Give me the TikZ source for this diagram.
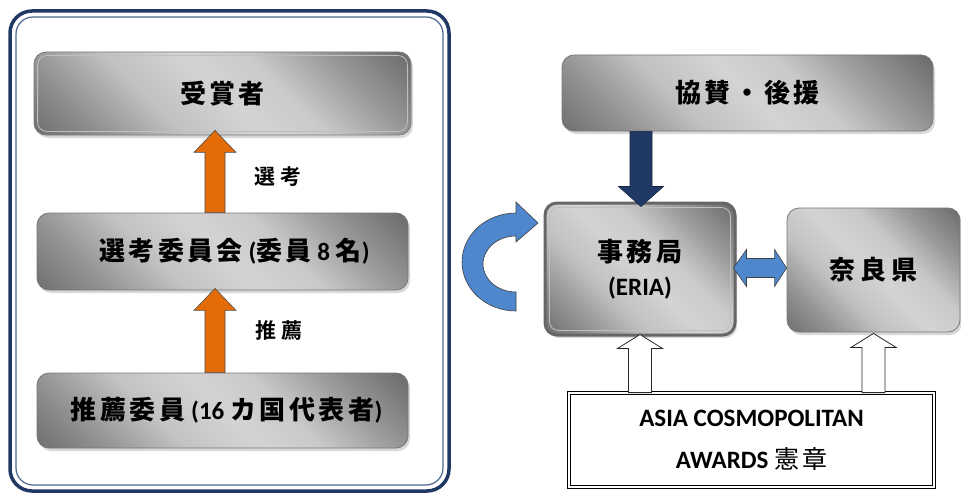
\documentclass[tikz,border=0pt]{standalone}
\usepackage{fontspec}
\setmainfont{Carlito}
\newfontfamily\jpf{Noto Sans CJK JP Bold}[LetterSpace=10]
\newfontfamily\jpg{Noto Sans CJK JP Bold}[LetterSpace=13]
\newfontfamily\jpw{Noto Sans CJK JP Bold}[LetterSpace=20]
\newfontfamily\jpl{Noto Sans CJK JP Bold}[LetterSpace=28]
\newfontfamily\jpr{Noto Sans CJK JP Bold}[LetterSpace=14]
\newfontfamily\jpn{Noto Sans CJK JP}[LetterSpace=12]
\usetikzlibrary{shadows,calc}
\definecolor{navy}{RGB}{31,56,100}
\definecolor{navyin}{RGB}{74,103,144}
\definecolor{orng}{RGB}{227,108,9}
\definecolor{bluea}{RGB}{79,135,205}
\definecolor{boxedge}{RGB}{120,120,120}
\pgfdeclarehorizontalshading{metal}{100bp}{color(0bp)=(black!58); color(15bp)=(black!56);
  color(26bp)=(black!42); color(38bp)=(black!24); color(50bp)=(black!17); color(60bp)=(black!21);
  color(72bp)=(black!40); color(85bp)=(black!58); color(100bp)=(black!60)}
\newcommand\vblock[6]{%
  \path[#1] let \p1=#2, \p2=#3, \n1={sign(\y2-\y1)} in
   ({\x2-#4pt},\y1) -- ({\x2-#4pt},{\y2-\n1*#6pt}) -- ({\x2-#5pt},{\y2-\n1*#6pt})
   -- (\x2,\y2) -- ({\x2+#5pt},{\y2-\n1*#6pt}) -- ({\x2+#4pt},{\y2-\n1*#6pt})
   -- ({\x2+#4pt},\y1) -- cycle;}
\begin{document}
\begin{tikzpicture}[x=1pt,y=-1pt,
  gbox/.style={rectangle, rounded corners=12pt, draw=boxedge, line width=0.8pt,
    shading=metal, shading angle=45,
    drop shadow={opacity=0.3, shadow xshift=2pt, shadow yshift=-3pt},
    inner sep=0pt, font=\fontsize{25}{30}\selectfont\bfseries},
  innerline/.style={draw=white!75!black, line width=0.8pt, rounded corners=9pt},
  orangearr/.style={fill=orng, draw=black!70, line width=0.6pt},
  navyarr/.style={fill=navy, draw=navy!70!black, line width=0.6pt},
  bluearr/.style={fill=bluea, draw=black!75, line width=0.6pt},
  whitearr/.style={fill=white, draw=black!85, line width=0.8pt},
  lab/.style={font=\fontsize{21}{24}\selectfont, inner sep=0pt}]
\useasboundingbox (0,0) rectangle (961,495);
\fill[white] (0,0) rectangle (961,495);

% left container
\draw[navy, line width=3.5pt, rounded corners=22pt] (10,11) rectangle (449,491);
\draw[navyin, line width=1.2pt, rounded corners=17pt] (16,17) rectangle (443,485);

% left column
\node[gbox, minimum width=377pt, minimum height=83pt] (win) at (222.5,93.5) {\fontsize{26}{30}\selectfont\jpf 受賞者};
\draw[innerline] ([shift={(4,4)}]win.north west) rectangle ([shift={(-4,-4)}]win.south east);
\node[gbox, minimum width=371pt, minimum height=77pt] (sel) at (222.5,251.5)
  {\hspace*{24pt}{\fontsize{26}{30}\selectfont\jpg 選考委員会} ({\fontsize{26}{30}\selectfont\jpg 委員} 8 {\fontsize{26}{30}\selectfont\jpg 名})};
\node[gbox, minimum width=371pt, minimum height=75pt] (rec) at (222.5,410.5)
  {\hspace*{8pt}{\fontsize{26}{30}\selectfont\jpr 推薦委員} (16 {\fontsize{26}{30}\selectfont\jpr カ国代表者})};

\vblock{orangearr}{(sel.north)}{($(win.south)+(-7.5,-5)$)}{10}{21}{22}
\vblock{orangearr}{(rec.north)}{($(sel.south)+(-7.5,-2)$)}{10}{21}{22}
\node[lab] (l1) at (278,177) {\jpl 選考};
\node[lab] (l2) at (279,331) {\jpl 推薦};

% right side
\node[gbox, minimum width=371pt, minimum height=76pt] (spon) at (747.5,93) {\fontsize{26}{30}\selectfont\jpr 協賛・後援};
\node[gbox, draw=black!60, line width=3pt, minimum width=190pt, minimum height=132pt, align=center] (jim) at (640,269)
  {{\fontsize{26}{30}\selectfont\jpr 事務局}\\[4pt](ERIA)};
\draw[innerline] ([shift={(6,6)}]jim.north west) rectangle ([shift={(-6,-6)}]jim.south east);
\node[gbox, minimum width=173pt, minimum height=124pt] (nara) at (873.5,270) {\raisebox{-4pt}{\fontsize{26}{30}\selectfont\jpw 奈良県}};
\node[draw=black, line width=0.8pt, double, double distance=2pt, minimum width=365pt, minimum height=94pt,
  align=center, inner sep=0pt, font=\fontsize{25}{42}\selectfont\bfseries] (emb) at (751.5,440)
  {ASIA COSMOPOLITAN\\AWARDS {\fontsize{25}{30}\selectfont\mdseries\jpn 憲章}};

\vblock{navyarr}{(spon.south)}{($(jim.north)+(1,5)$)}{11}{22.5}{20}
\vblock{whitearr}{(emb.north)}{($(jim.south)+(0,-2)$)}{11.5}{22.5}{14}
\vblock{whitearr}{(emb.north)}{($(nara.south)+(0,1)$)}{11.5}{22.5}{14}

% double arrow
\path[bluearr] let \p1=($(jim.east)+(-3,-1)$), \p2=(nara.west |- \p1) in
  (\x1,\y1) -- ({\x1+13pt},{\y1+18.5pt}) -- ({\x1+13pt},{\y1+9.5pt}) -- ({\x2-12pt},{\y1+9.5pt})
  -- ({\x2-12pt},{\y1+18.5pt}) -- (\x2,\y1) -- ({\x2-12pt},{\y1-18.5pt}) -- ({\x2-12pt},{\y1-9.5pt})
  -- ({\x1+13pt},{\y1-9.5pt}) -- ({\x1+13pt},{\y1-18.5pt}) -- cycle;

% curved arrow
\coordinate (cc) at (516,262);
\path[bluearr] ($(cc)+(0,-49)$) arc[start angle=270, end angle=90, x radius=54, y radius=49]
  -- ($(cc)+(0,30)$) arc[start angle=90, end angle=270, x radius=33, y radius=28]
  -- ($(cc)+(0,-20)$) -- ($(cc)+(22,-39)$) -- ($(cc)+(0,-60)$) -- cycle;
\end{tikzpicture}
\end{document}
